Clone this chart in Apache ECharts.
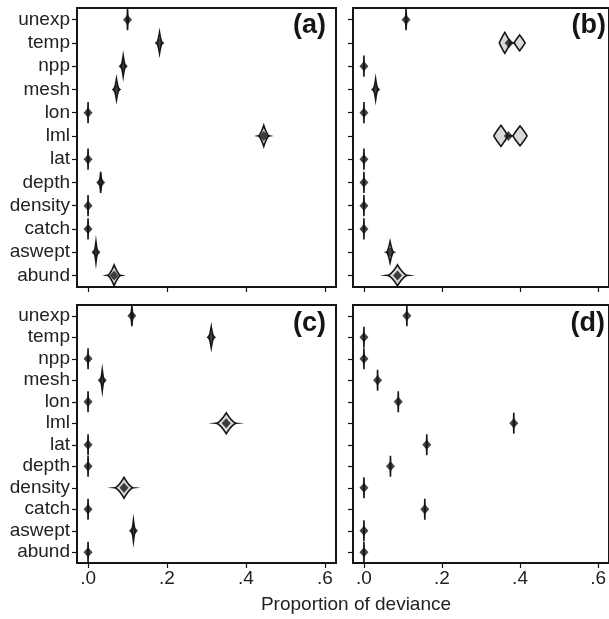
<!DOCTYPE html>
<html>
<head>
<meta charset="utf-8">
<script src="https://cdn.jsdelivr.net/npm/echarts@6/dist/echarts.min.js"></script>
<style>
  html, body { margin: 0; padding: 0; background: #ffffff; }
  #chart { width: 609px; height: 619px; }
</style>
</head>
<body>
<div id="chart"></div>
<script>
// ---------- data ----------
const categories = ['unexp', 'temp', 'npp', 'mesh', 'lon', 'lml', 'lat', 'depth', 'density', 'catch', 'aswept', 'abund'];
const xTicks = [0, 0.2, 0.4, 0.6];
const panelLabels = ['(a)', '(b)', '(c)', '(d)'];

// point estimates (proportion of deviance)
const pointA = [0.100, 0.181, 0.089, 0.072, 0.000, 0.445, 0.000, 0.032, 0.000, 0.000, 0.020, 0.066];
const pointB = [0.108, 0.372, 0.000, 0.030, 0.000, 0.370, 0.000, 0.000, 0.000, 0.000, 0.067, 0.086];
const pointC = [0.111, 0.312, 0.000, 0.036, 0.000, 0.350, 0.000, 0.000, 0.091, 0.000, 0.115, 0.000];
const pointD = [0.110, 0.000, 0.000, 0.035, 0.088, 0.384, 0.161, 0.068, 0.000, 0.156, 0.000, 0.000];

// half-width of each violin (distribution spread)
const spreadA = [0.002, 0.007, 0.006, 0.007, 0.001, 0.014, 0.001, 0.004, 0.001, 0.001, 0.005, 0.017];
const spreadB = [0.002, 0.014, 0.001, 0.006, 0.001, 0.018, 0.001, 0.001, 0.001, 0.001, 0.009, 0.026];
const spreadC = [0.003, 0.007, 0.001, 0.005, 0.001, 0.026, 0.001, 0.001, 0.024, 0.001, 0.005, 0.001];
const spreadD = [0.001, 0.001, 0.001, 0.001, 0.001, 0.001, 0.001, 0.001, 0.001, 0.001, 0.001, 0.001];

// bimodal violins in panel (b): category index, modes, relative weights
const bimodalIndexB = [1, 5];
const bimodalModesB = [[0.361, 0.399], [0.351, 0.400]];
const bimodalWeightsB = [[1, 0.75], [1, 0.95]];

// ---------- chart ----------
const FONT = 'Liberation Sans, Arial, Helvetica, sans-serif';
const INK = '#151515';
const HALF_H = 10.5;

const grids = [
  { left: 77, top: 8, width: 259, height: 279 },
  { left: 353, top: 8, width: 259, height: 279 },
  { left: 77, top: 305, width: 259, height: 258 },
  { left: 353, top: 305, width: 259, height: 258 }
].map(g => Object.assign(g, { show: true, borderColor: INK, borderWidth: 2, backgroundColor: 'rgba(0,0,0,0)', containLabel: false }));

const points = [pointA, pointB, pointC, pointD];
const spreads = [spreadA, spreadB, spreadC, spreadD];

function kern(u, q) {
  const a = 1 - Math.abs(u);
  return a > 0 ? Math.pow(a, q) : 0;
}

function makeViolin(panel) {
  const pts = points[panel];
  const spr = spreads[panel];
  return {
    type: 'custom',
    xAxisIndex: panel,
    yAxisIndex: panel,
    z: 2,
    silent: true,
    data: pts.map((p, i) => [p, i]),
    encode: { x: 0, y: 1 },
    renderItem: function (params, api) {
      const i = params.dataIndex;
      const p = api.value(0);
      let comps;
      const bi = panel === 1 ? bimodalIndexB.indexOf(i) : -1;
      if (bi >= 0) {
        comps = bimodalModesB[bi].map((m, k) => ({ c: m, hw: spr[i], w: bimodalWeightsB[bi][k], q: 0.9 }));
      } else {
        comps = [{ c: p, hw: spr[i], w: 1, q: 1.6 }];
      }
      let lo = Infinity, hi = -Infinity;
      comps.forEach(c => { lo = Math.min(lo, c.c - c.hw); hi = Math.max(hi, c.c + c.hw); });
      const N = 90;
      const xs = [], ds = [];
      let maxd = 0;
      for (let j = 0; j <= N; j++) {
        const x = lo + (hi - lo) * j / N;
        let d = 0;
        comps.forEach(c => { d += c.w * kern((x - c.c) / c.hw, c.q); });
        xs.push(x); ds.push(d);
        if (d > maxd) maxd = d;
      }
      const cy = api.coord([p, i])[1];
      const top = [], bot = [];
      for (let j = 0; j <= N; j++) {
        const px = api.coord([xs[j], i])[0];
        const h = maxd > 0 ? HALF_H * ds[j] / maxd : 0;
        top.push([px, cy - h]);
        bot.push([px, cy + h]);
      }
      return {
        type: 'polygon',
        shape: { points: top.concat(bot.reverse()) },
        style: { fill: '#d9d9d9', stroke: INK, lineWidth: 1.6 }
      };
    }
  };
}

function makePoints(panel) {
  return {
    type: 'scatter',
    xAxisIndex: panel,
    yAxisIndex: panel,
    z: 3,
    silent: true,
    symbol: 'diamond',
    symbolSize: [9, 10],
    itemStyle: { color: INK },
    data: points[panel].map((p, i) => [p, i])
  };
}

const xAxes = [0, 1, 2, 3].map(k => ({
  type: 'value',
  gridIndex: k,
  min: -0.028,
  max: 0.628,
  axisLine: { show: false, onZero: false },
  splitLine: { show: false },
  axisTick: { show: true, length: 5, customValues: xTicks, lineStyle: { color: INK, width: 1.2 } },
  axisLabel: {
    show: k >= 2,
    customValues: xTicks,
    margin: 6,
    fontFamily: FONT,
    fontSize: 19,
    color: '#222',
    formatter: v => v.toFixed(1).replace(/^0/, '')
  }
}));

const yAxes = [0, 1, 2, 3].map(k => ({
  type: 'category',
  gridIndex: k,
  data: categories,
  inverse: true,
  boundaryGap: true,
  axisLine: { show: false, onZero: false },
  splitLine: { show: false },
  axisTick: { show: true, interval: 0, alignWithLabel: true, length: 5, lineStyle: { color: INK, width: 1.2 } },
  axisLabel: {
    show: k % 2 === 0,
    interval: 0,
    margin: 7,
    fontFamily: FONT,
    fontSize: 19,
    color: '#222'
  }
}));

const labelPos = [[326, 12], [606, 12], [326, 310], [605, 310]];

const option = {
  animation: false,
  backgroundColor: '#ffffff',
  grid: grids,
  xAxis: xAxes,
  yAxis: yAxes,
  series: [0, 1, 2, 3].map(makeViolin).concat([0, 1, 2, 3].map(makePoints)),
  graphic: panelLabels.map((t, k) => ({
    type: 'text',
    x: labelPos[k][0],
    y: labelPos[k][1],
    z: 10,
    style: {
      text: t,
      fontFamily: FONT,
      fontSize: 27,
      fontWeight: 'bold',
      fill: INK,
      textAlign: 'right',
      textVerticalAlign: 'top'
    }
  })).concat([{
    type: 'text',
    x: 356,
    y: 605,
    style: {
      text: 'Proportion of deviance',
      fontFamily: FONT,
      fontSize: 19,
      fill: '#222',
      textAlign: 'center',
      textVerticalAlign: 'middle'
    }
  }])
};

const chart = echarts.init(document.getElementById('chart'), null, { renderer: 'canvas' });
chart.setOption(option);
</script>
</body>
</html>
